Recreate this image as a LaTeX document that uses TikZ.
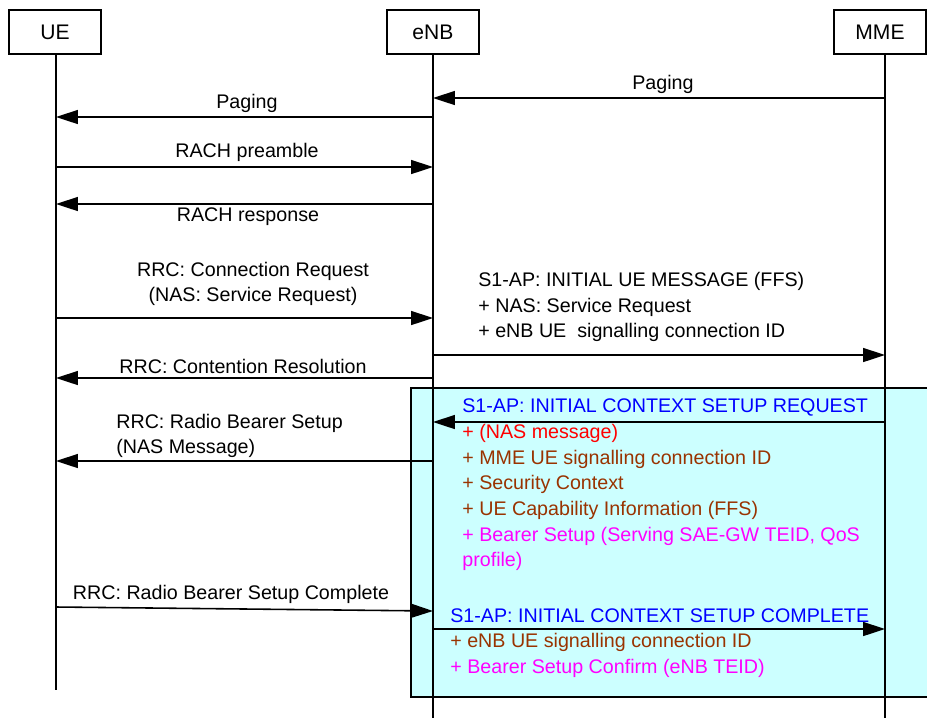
\documentclass[tikz,border=0pt]{standalone}
\usepackage{fontspec}
\setmainfont{Liberation Sans}
\usetikzlibrary{arrows.meta}
\definecolor{setupcyan}{RGB}{204,255,255}
\definecolor{s1blue}{RGB}{0,0,255}
\definecolor{nasred}{RGB}{255,0,0}
\definecolor{ieBrown}{RGB}{153,51,0}
\definecolor{bearerpink}{RGB}{255,0,255}
\tikzset{
  entity/.style={draw,line width=1.5pt,minimum width=1.84cm,minimum height=0.88cm,font=\fontsize{12}{14}\selectfont},
  lifeline/.style={line width=0.9pt},
  msgline/.style={line width=0.9pt,-{Triangle[length=0.44cm,width=0.28cm]}},
  msglabel/.style={font=\fontsize{11.2}{14.6}\selectfont,inner sep=0pt}
}

\begin{document}
\begin{tikzpicture}[x=0.02cm,y=-0.02cm]
  \useasboundingbox (0,0) rectangle (927,718);
  % setup area
  \fill[setupcyan] (411,388) rectangle (927,697);
  \draw[line width=0.9pt] (927,388) -- (411,388) -- (411,697) -- (927,697);
  % entities
  \node[entity] (ue)  at (55,32)  {UE};
  \node[entity] (enb) at (433,32) {eNB};
  \node[entity] (mme) at (880,32) {MME};
  \coordinate (ue-top)  at (56,54);
  \coordinate (enb-top) at (433,54);
  \coordinate (mme-top) at (885,54);
  \coordinate (ue-end)  at (56,690);
  \coordinate (enb-end) at (433,718);
  \coordinate (mme-end) at (885,718);
  \draw[lifeline] (ue-top) -- (ue-end);
  \draw[lifeline] (enb-top) -- (enb-end);
  \draw[lifeline] (mme-top) -- (mme-end);
  \newcommand{\msg}[4]{%
    \draw[msgline] (#1 |- 0,#3) -- (#2 |- 0,#4);}
  % messages
  \msg{mme-top}{enb-top}{98}{98}
  \node[msglabel] (paging-s1) at (663,84) {Paging};
  \msg{enb-top}{ue-top}{117}{117}
  \node[msglabel] (paging-rrc) at (247,103) {Paging};
  \msg{ue-top}{enb-top}{167}{167}
  \node[msglabel] (rach-pre) at (247,152) {RACH preamble};
  \msg{enb-top}{ue-top}{204}{204}
  \node[msglabel] (rach-resp) at (248,217) {RACH response};
  \msg{ue-top}{enb-top}{318}{318}
  \node[msglabel,align=center] (rrc-req) at (253,284)
    {RRC: Connection Request\\(NAS: Service Request)};
  \msg{enb-top}{mme-top}{355}{355}
  \node[msglabel,align=left,anchor=west] (s1-init) at (478,307)
    {S1-AP: INITIAL UE MESSAGE (FFS)\\+ NAS: Service Request\\+ eNB UE\ \ signalling connection ID};
  \msg{enb-top}{ue-top}{378}{378}
  \node[msglabel] (rrc-cont) at (243,366) {RRC: Contention Resolution};
  \msg{mme-top}{enb-top}{422}{422}
  \node[msglabel,align=left,anchor=west] (s1-ctx-req) at (462,485)
    {\color{s1blue}S1-AP: INITIAL CONTEXT SETUP REQUEST\\
     \color{nasred}+ (NAS message)\\
     \color{ieBrown}+ MME UE signalling connection ID\\
     \color{ieBrown}+ Security Context\\
     \color{ieBrown}+ UE Capability Information (FFS)\\
     \color{bearerpink}+ Bearer Setup (Serving SAE-GW TEID, QoS\\
     \color{bearerpink}profile)};
  \msg{enb-top}{ue-top}{461}{461}
  \node[msglabel,align=left,anchor=west] (rrc-rb) at (116,436)
    {RRC: Radio Bearer Setup\\(NAS Message)};
  \msg{ue-top}{enb-top}{607}{611}
  \node[msglabel] (rrc-rb-cpl) at (231,594) {RRC: Radio Bearer Setup Complete};
  \msg{enb-top}{mme-top}{629}{629}
  \node[msglabel,align=left,anchor=west] (s1-ctx-cpl) at (450,643)
    {\color{s1blue}S1-AP: INITIAL CONTEXT SETUP COMPLETE\\
     \color{ieBrown}+ eNB UE signalling connection ID\\
     \color{bearerpink}+ Bearer Setup Confirm (eNB TEID)};
\end{tikzpicture}
\end{document}
